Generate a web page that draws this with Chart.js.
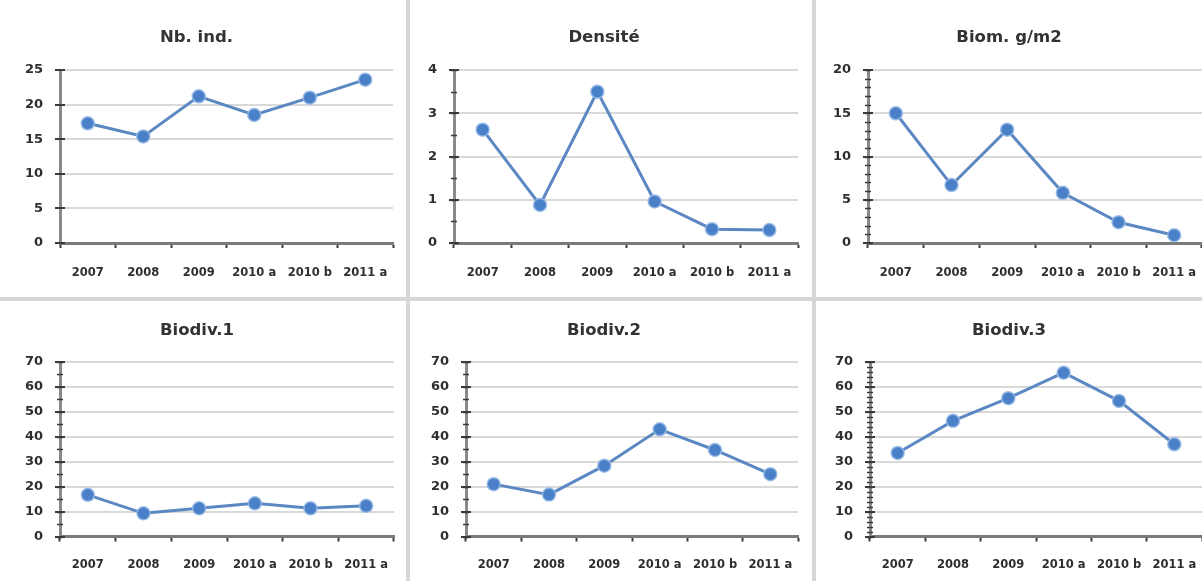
<!DOCTYPE html>
<html>
<head>
<meta charset="utf-8">
<script src="https://cdn.jsdelivr.net/npm/chart.js@4/dist/chart.umd.min.js"></script>
<style>
  html, body { margin: 0; padding: 0; background: #ffffff; }
  body { width: 1202px; height: 581px; position: relative; overflow: hidden; }
  canvas { position: absolute; }
  .sep { position: absolute; background: #d6d6d6; }
</style>
</head>
<body>
<div class="sep" style="left:406px;top:0;width:4px;height:581px"></div>
<div class="sep" style="left:812px;top:0;width:4px;height:581px"></div>
<div class="sep" style="left:0;top:297px;width:1202px;height:4px"></div>
<script>
// Survey periods shared by every panel
const categories = ['2007', '2008', '2009', '2010 a', '2010 b', '2011 a'];

// Panel titles
const titles = ['Nb. ind.', 'Densité', 'Biom. g/m2', 'Biodiv.1', 'Biodiv.2', 'Biodiv.3'];

// Series values, one array per indicator
const nbInd    = [17.3, 15.4, 21.2, 18.5, 21.0, 23.6];
const densite  = [2.62, 0.88, 3.5, 0.96, 0.32, 0.3];
const biomasse = [15.0, 6.7, 13.1, 5.8, 2.4, 0.9];
const biodiv1  = [16.7, 9.3, 11.3, 13.3, 11.3, 12.3];
const biodiv2  = [21.0, 16.8, 28.4, 43.0, 34.7, 25.0];
const biodiv3  = [33.5, 46.4, 55.5, 65.7, 54.4, 37.0];

// Y-axis ranges: [max, major step, minor step]
const yNbInd    = [25, 5, 0];
const yDensite  = [4, 1, 0.5];
const yBiomasse = [20, 5, 1];
const yBiodiv   = [70, 10, 5];
const yBiodiv3  = [70, 10, 2];

const FONT = "'DejaVu Sans', Verdana, sans-serif";
const TITLE_SIZE = 16.5;

// Tick marks that cross the value axis (major + optional minor)
const crossTicks = {
  id: 'crossTicks',
  afterDraw(chart, args, opts) {
    const y = chart.scales.y;
    const ctx = chart.ctx;
    const x0 = y.right;
    ctx.save();
    ctx.strokeStyle = '#3a3a3a';
    if (opts.minor) {
      ctx.lineWidth = 1.5;
      for (let v = y.min; v <= y.max + 1e-9; v += opts.minor) {
        const py = Math.round(y.getPixelForValue(v)) + 0.5;
        ctx.beginPath(); ctx.moveTo(x0 - 3, py); ctx.lineTo(x0 + 3, py); ctx.stroke();
      }
    }
    ctx.lineWidth = 2;
    y.ticks.forEach(t => {
      const py = Math.round(y.getPixelForValue(t.value));
      ctx.beginPath(); ctx.moveTo(x0 - 5, py); ctx.lineTo(x0 + 5, py); ctx.stroke();
    });
    ctx.restore();
  }
};

function panel(cfg) {
  const c = document.createElement('canvas');
  c.width = cfg.w; c.height = cfg.h;
  c.style.left = cfg.x + 'px'; c.style.top = cfg.y + 'px';
  c.style.width = cfg.w + 'px'; c.style.height = cfg.h + 'px';
  document.body.appendChild(c);
  const [ymax, step, minor] = cfg.range;
  new Chart(c, {
    type: 'line',
    data: {
      labels: categories,
      datasets: [{
        data: cfg.data,
        borderColor: '#5b87c2',
        borderWidth: 3,
        pointRadius: 6.5,
        pointBackgroundColor: '#4a80c8',
        pointBorderColor: 'rgba(150,185,230,0.9)',
        pointBorderWidth: 1.5,
        tension: 0,
        clip: false
      }]
    },
    options: {
      responsive: false,
      animation: false,
      events: [],
      layout: {
        autoPadding: false,
        padding: { left: 0, top: 0, right: cfg.w - cfg.right, bottom: 0 }
      },
      plugins: {
        legend: { display: false },
        tooltip: { enabled: false },
        title: {
          display: true,
          text: cfg.title,
          color: '#333333',
          font: { family: FONT, size: TITLE_SIZE, weight: 'bold', lineHeight: 1.2 },
          padding: { top: cfg.titleTop, bottom: cfg.top - cfg.titleTop - TITLE_SIZE * 1.2 }
        },
        crossTicks: { minor: minor }
      },
      scales: {
        x: {
          offset: true,
          grid: {
            display: true, offset: true, drawOnChartArea: false,
            drawTicks: true, tickLength: 5, tickColor: '#3a3a3a', tickWidth: 2
          },
          border: { display: true, color: '#7a7a7a', width: 3 },
          ticks: {
            color: '#2e2e2e', padding: cfg.xPad, maxRotation: 0, autoSkip: false,
            font: { family: FONT, size: 11.5, weight: 'bold' }
          },
          afterFit: s => {
            s.height = cfg.h - cfg.bottom;
            s.paddingLeft = 0;
            s.paddingRight = 0;
          }
        },
        y: {
          min: 0, max: ymax,
          grid: { color: '#d9d9d9', lineWidth: 2, drawTicks: false },
          border: { display: true, color: '#8a8a8a', width: 3 },
          ticks: {
            stepSize: step, color: '#2e2e2e', padding: 17,
            font: { family: FONT, size: 13, weight: 'bold' }
          },
          afterFit: s => { s.width = cfg.left; }
        }
      }
    },
    plugins: [crossTicks]
  });
}

// Top row
panel({ x: 0,   y: 0, w: 406, h: 296, left: 60, right: 393, top: 70, bottom: 243, titleTop: 27.5, xPad: 18, title: titles[0], data: nbInd,    range: yNbInd });
panel({ x: 410, y: 0, w: 402, h: 296, left: 44, right: 388, top: 70, bottom: 243, titleTop: 27.5, xPad: 18, title: titles[1], data: densite,  range: yDensite });
panel({ x: 816, y: 0, w: 386, h: 296, left: 52, right: 386, top: 70, bottom: 243, titleTop: 27.5, xPad: 18, title: titles[2], data: biomasse, range: yBiomasse });
// Bottom row
panel({ x: 0,   y: 301, w: 406, h: 280, left: 60, right: 394, top: 61, bottom: 235.5, titleTop: 19.5, xPad: 17, title: titles[3], data: biodiv1, range: yBiodiv });
panel({ x: 410, y: 301, w: 402, h: 280, left: 56, right: 388, top: 61, bottom: 235.5, titleTop: 19.5, xPad: 17, title: titles[4], data: biodiv2, range: yBiodiv });
panel({ x: 816, y: 301, w: 386, h: 280, left: 54, right: 386, top: 61, bottom: 235.5, titleTop: 19.5, xPad: 17, title: titles[5], data: biodiv3, range: yBiodiv3 });
</script>
</body>
</html>
